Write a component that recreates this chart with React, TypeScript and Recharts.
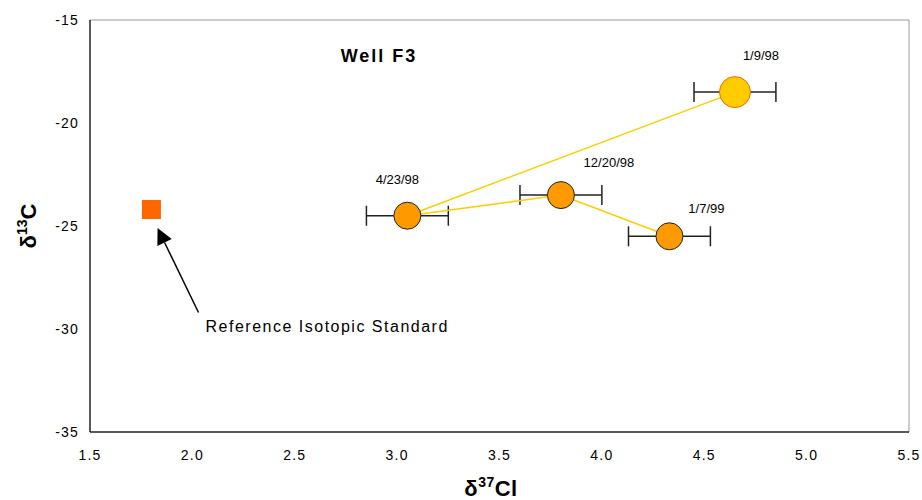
import React from "react";
import {
  ErrorBar,
  ReferenceLine,
  Scatter,
  ScatterChart,
  XAxis,
  YAxis,
  Customized,
} from "recharts";

// sample dates, in sampling order
const sampleDates = ["1/9/98", "4/23/98", "12/20/98", "1/7/99"];
const cl37 = [4.65, 3.05, 3.8, 4.33];
const c13 = [-18.5, -24.5, -23.5, -25.5];
const clError = [0.2, 0.2, 0.2, 0.2];

// reference isotopic standard
const standardCl = [1.8];
const standardC = [-24.2];

const xTicks = [1.5, 2.0, 2.5, 3.0, 3.5, 4.0, 4.5, 5.0, 5.5];
const yTicks = [-35, -30, -25, -20, -15];

// label nudges (px) relative to each marker centre
const labelNudge = [
  [26, -37],
  [-10, -36],
  [48, -33],
  [37, -28],
];

const samples = sampleDates.map((date, i) => ({
  date,
  x: cl37[i],
  y: c13[i],
  err: clError[i],
}));
const standard = standardCl.map((x, i) => ({ x, y: standardC[i] }));

const font = "Arial, 'Liberation Sans', sans-serif";

const dateLabel = (p: any) => {
  const i = sampleDates.indexOf(p.payload.date);
  const [dx, dy] = labelNudge[i];
  return (
    <text
      x={p.cx + dx}
      y={p.cy + dy}
      textAnchor="middle"
      dominantBaseline="central"
      fontSize={13}
      fontFamily={font}
      fill="#000"
    >
      {p.payload.date}
    </text>
  );
};

const firstShape = (p: any) => (
  <g>
    <circle cx={p.cx} cy={p.cy} r={15.5} fill="#FFCC00" stroke="#FF6600" strokeWidth={1} />
    {dateLabel(p)}
  </g>
);

const sampleShape = (p: any) => (
  <g>
    <circle cx={p.cx} cy={p.cy} r={13.5} fill="#FF9900" stroke="#222" strokeWidth={1} />
    {dateLabel(p)}
  </g>
);

const squareShape = (p: any) => (
  <rect x={p.cx - 9.5} y={p.cy - 9.5} width={19} height={19} fill="#FF6600" />
);

const arrowShape = (p: any) => {
  const { x1, y1, x2, y2 } = p;
  const ang = Math.atan2(y2 - y1, x2 - x1);
  const len = 16;
  const wid = 8;
  const bx = x2 - len * Math.cos(ang);
  const by = y2 - len * Math.sin(ang);
  const px = -Math.sin(ang) * wid;
  const py = Math.cos(ang) * wid;
  return (
    <g>
      <line x1={x1} y1={y1} x2={bx} y2={by} stroke="#000" strokeWidth={1.5} />
      <polygon
        points={`${x2},${y2} ${bx + px},${by + py} ${bx - px},${by - py}`}
        fill="#000"
      />
      <text
        x={x1 + 7}
        y={y1 + 14}
        dominantBaseline="central"
        fontSize={16}
        letterSpacing={1.5}
        fontFamily={font}
        fill="#000"
      >
        Reference Isotopic Standard
      </text>
    </g>
  );
};

const Titles = () => (
  <g fontFamily={font} fill="#000">
    <text x={379} y={56} textAnchor="middle" dominantBaseline="central" fontSize={18} fontWeight="bold" letterSpacing={2}>
      Well F3
    </text>
    <text transform="translate(36,226) rotate(-90)" textAnchor="middle" fontSize={22} fontWeight="bold">
      δ
      <tspan fontSize={14} dy={-9}>13</tspan>
      <tspan dy={9}>C</tspan>
    </text>
    <text x={491} y={496} textAnchor="middle" fontSize={22} fontWeight="bold" letterSpacing={0.5}>
      δ
      <tspan fontSize={14} dy={-9}>37</tspan>
      <tspan dy={9}>Cl</tspan>
    </text>
  </g>
);

const tickStyle = { fill: "#000", fontSize: 14, fontFamily: font, letterSpacing: 1.2 };

export default function App() {
  return (
    <div style={{ position: "absolute", left: 0, top: 0, background: "#fff" }}>
      <ScatterChart
        width={922}
        height={500}
        margin={{ top: 20, right: 13, bottom: 28, left: 30 }}
      >
        <XAxis
          type="number"
          dataKey="x"
          domain={[1.5, 5.5]}
          ticks={xTicks}
          tickFormatter={(v: number) => v.toFixed(1)}
          height={40}
          tickLine={false}
          tickSize={0}
          tickMargin={18}
          axisLine={{ stroke: "#222", strokeWidth: 1.5 }}
          tick={tickStyle}
          allowDataOverflow
        />
        <YAxis
          type="number"
          dataKey="y"
          domain={[-35, -15]}
          ticks={yTicks}
          width={60}
          tickLine={false}
          tickSize={0}
          tickMargin={11}
          axisLine={{ stroke: "#222", strokeWidth: 1.5 }}
          tick={tickStyle}
          allowDataOverflow
        />
        <ReferenceLine y={-15} stroke="#999" strokeWidth={1} />
        <ReferenceLine x={5.5} stroke="#999" strokeWidth={1} />
        <ReferenceLine
          segment={[
            { x: 2.03, y: -29.2 },
            { x: 1.83, y: -25.1 },
          ]}
          shape={arrowShape}
        />
        <Scatter
          data={samples}
          line={{ stroke: "#FFCC00", strokeWidth: 1.5 }}
          lineType="joint"
          shape={() => <g />}
          isAnimationActive={false}
        />
        <Scatter data={samples.slice(1)} shape={sampleShape} isAnimationActive={false}>
          <ErrorBar dataKey="err" direction="x" width={10} stroke="#222" strokeWidth={1.5} />
        </Scatter>
        <Scatter data={samples.slice(0, 1)} shape={firstShape} isAnimationActive={false}>
          <ErrorBar dataKey="err" direction="x" width={10} stroke="#222" strokeWidth={1.5} />
        </Scatter>
        <Scatter data={standard} shape={squareShape} isAnimationActive={false} />
        <Customized component={Titles} />
      </ScatterChart>
    </div>
  );
}
